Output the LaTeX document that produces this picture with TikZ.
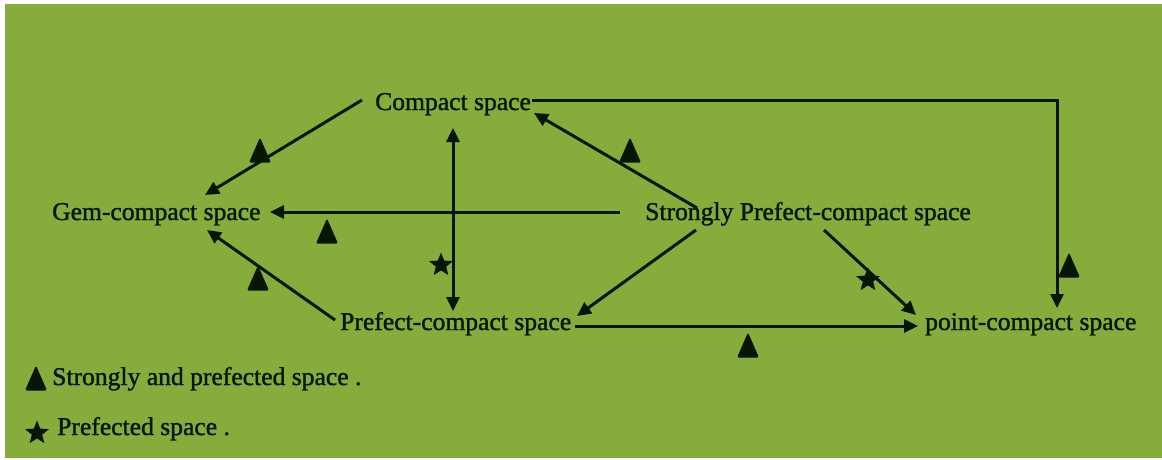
\documentclass[tikz,border=0pt]{standalone}
\usepackage{fontspec}
\setmainfont{Liberation Serif}
\newfontfamily\diagfont{Liberation Serif}[FakeBold=1.3]
\usetikzlibrary{arrows.meta,shapes.geometric}
\definecolor{bggreen}{RGB}{134,173,59}
\definecolor{ink}{RGB}{8,20,4}
\tikzset{
  lbl/.style={anchor=base west,inner sep=0pt,text=ink,font=\diagfont\fontsize{25.6}{30}\selectfont},
  conn/.style={draw=ink,line width=3pt,-{Triangle[length=14pt,width=13pt]}},
  tri/.pic={\fill[ink,rounded corners=1.5pt] (-11,12.5) -- (0,-12.5) -- (11,12.5) -- cycle;},
  starmark/.style={star,star points=5,star point ratio=2.3,fill=ink,draw=none,inner sep=0pt,minimum size=25pt}
}
\begin{document}
\begin{tikzpicture}[x=1pt,y=-1pt]
\useasboundingbox (0,0) rectangle (1162,459);
\fill[white] (0,0) rectangle (1162,459);
\fill[bggreen] (5,4) rectangle (1162,458);

% nodes
\node[lbl] (comp) at (375,110) {Compact space};
\node[lbl] (gem) at (52,220) {Gem-compact space};
\node[lbl] (strong) at (645,220) {Strongly Prefect-compact space};
\node[lbl] (pref) at (340,330) {Prefect-compact space};
\node[lbl] (point) at (925,330) {point-compact space};
\node[lbl] (leg1) at (52,385) {Strongly and prefected space .};
\node[lbl] (leg2) at (57,435) {Prefected space .};

% connectors
\draw[conn] ([shift={(-13,-10)}]comp.base west) -- ([shift={(153,-25)}]gem.base west);
\draw[conn] ([shift={(-25,-8)}]strong.base west) -- ([shift={(218,-8)}]gem.base west);
\draw[conn] ([shift={(-5,-10)}]pref.base west) -- ([shift={(155,10)}]gem.base west);
\draw[conn,{Triangle[length=14pt,width=13pt]}-{Triangle[length=14pt,width=13pt]}]
  ([shift={(78,18)}]comp.base west) -- ([shift={(113,-19)}]pref.base west);
\draw[conn] ([shift={(52,-12)}]strong.base west) -- ([shift={(159,3)}]comp.base west);
\draw[conn] ([shift={(157,-10)}]comp.base west) -| ([shift={(132,-22)}]point.base west);
\draw[conn] ([shift={(51,10)}]strong.base west) -- ([shift={(237,-14)}]pref.base west);
\draw[conn] ([shift={(179,10)}]strong.base west) -- ([shift={(-9,-15)}]point.base west);
\draw[conn] ([shift={(235,-4)}]pref.base west) -- ([shift={(-7,-4)}]point.base west);

% markers
\pic at (260,150) {tri};
\pic at (327,231) {tri};
\pic at (258,278) {tri};
\pic at (630,150) {tri};
\pic at (1069,265) {tri};
\pic at (748,345) {tri};
\node[starmark] (s1) at (441,265) {};
\node[starmark] (s2) at (868,280) {};

% legend markers
\pic at (36,378) {tri};
\node[starmark] (s3) at (37,433) {};
\end{tikzpicture}
\end{document}
